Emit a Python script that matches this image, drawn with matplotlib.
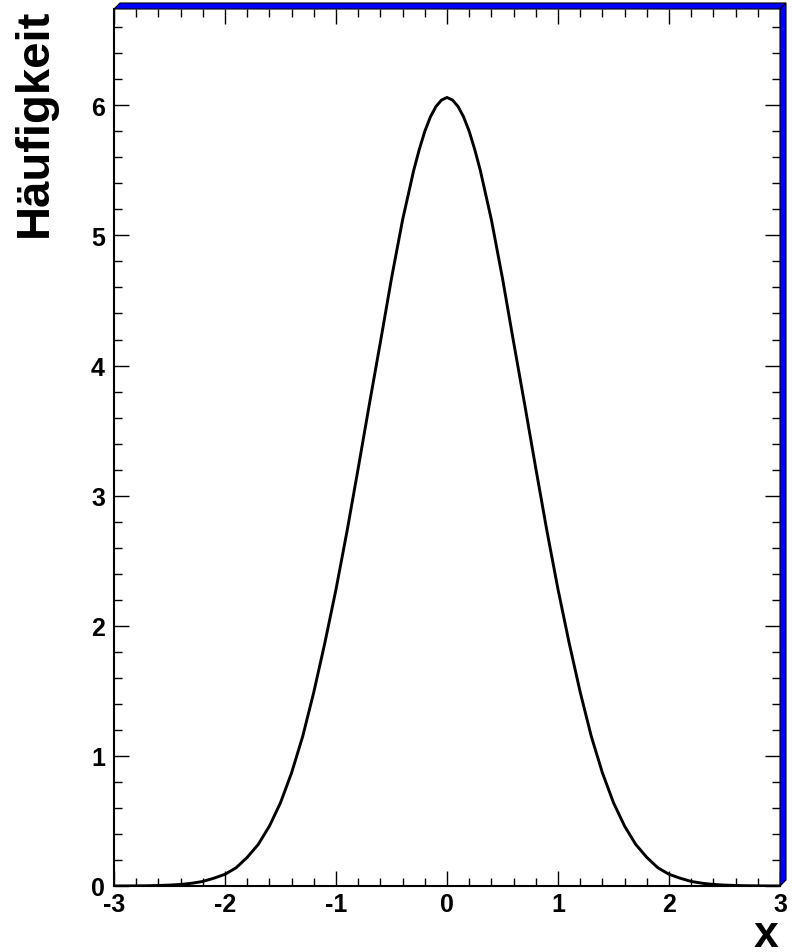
import matplotlib
matplotlib.use('Agg')
import matplotlib.pyplot as plt
from matplotlib.patches import Polygon
from matplotlib.ticker import MultipleLocator

plt.rcParams['font.family'] = ['Liberation Sans', 'DejaVu Sans']
plt.rcParams['font.weight'] = 'bold'

# curve
x_vals = [-3.0, -2.9, -2.8, -2.7, -2.6, -2.5, -2.4, -2.3, -2.2, -2.1,
          -2.0, -1.9, -1.8, -1.7, -1.6, -1.5, -1.4, -1.3, -1.2, -1.1,
          -1.0, -0.9, -0.8, -0.7, -0.6, -0.5, -0.4, -0.3, -0.25, -0.2,
          -0.15, -0.1, -0.05, 0.0, 0.05, 0.1, 0.15,
          0.2, 0.25, 0.3, 0.4, 0.5, 0.6, 0.7, 0.8, 0.9, 1.0,
          1.1, 1.2, 1.3, 1.4, 1.5, 1.6, 1.7, 1.8, 1.9, 2.0,
          2.1, 2.2, 2.3, 2.4, 2.5, 2.6, 2.7, 2.8, 2.9, 3.0]
y_vals = [0.0002, 0.0005, 0.001, 0.002, 0.004, 0.007, 0.012, 0.021, 0.035, 0.06,
          0.09, 0.14, 0.22, 0.32, 0.46, 0.64, 0.87, 1.15, 1.49, 1.87,
          2.28, 2.73, 3.21, 3.70, 4.18, 4.67, 5.12, 5.50, 5.66, 5.80,
          5.91, 5.99, 6.04, 6.06, 6.04, 5.99, 5.91,
          5.80, 5.66, 5.50, 5.12, 4.67, 4.18, 3.70, 3.21, 2.73, 2.28,
          1.87, 1.49, 1.15, 0.87, 0.64, 0.46, 0.32, 0.22, 0.14, 0.09,
          0.06, 0.035, 0.021, 0.012, 0.007, 0.004, 0.002, 0.001, 0.0005, 0.0002]

x_ticks = [-3, -2, -1, 0, 1, 2, 3]
y_ticks = [0, 1, 2, 3, 4, 5, 6]

W, H = 792, 953
fig = plt.figure(figsize=(W / 100, H / 100), dpi=100)
L, R, T, B = 114, 780, 10, 887
ax = fig.add_axes([L / W, 1 - B / H, (R - L) / W, (B - T) / H])

ax.plot(x_vals, y_vals, color='black', lw=2.1, solid_joinstyle='round')
ax.set_xlim(-3, 3)
ax.set_ylim(0, 6.74)
ax.set_xticks(x_ticks)
ax.set_yticks(y_ticks)
ax.set_xticklabels([str(t) for t in x_ticks])
ax.set_yticklabels([str(t) for t in y_ticks])
ax.xaxis.set_minor_locator(MultipleLocator(0.2))
ax.yaxis.set_minor_locator(MultipleLocator(0.2))

ax.tick_params(which='both', direction='in', top=True, right=True, width=1)
ax.tick_params(which='major', length=11, labelsize=18)
ax.tick_params(which='minor', length=5.5)
ax.tick_params(axis='x', which='major', pad=4)
ax.tick_params(axis='y', which='major', pad=6.5)
for lab in ax.get_xticklabels() + ax.get_yticklabels():
    lab.set_fontweight('bold')

for s in ['left', 'bottom']:
    ax.spines[s].set_linewidth(1.5)
for s in ['top', 'right']:
    ax.spines[s].set_visible(False)

# ROOT style bevel on top and right of the frame
def px(pts):
    return [(a / W, 1 - b / H) for a, b in pts]

top_band = Polygon(px([(L, T), (L + 6, T - 6), (R + 6, T - 6), (R, T)]),
                   closed=True, facecolor='#0000ff', edgecolor='black', lw=0.8,
                   transform=fig.transFigure)
right_band = Polygon(px([(R, T), (R + 6, T - 6), (R + 6, B - 6), (R, B)]),
                     closed=True, facecolor='#0000ff', edgecolor='black', lw=0.8,
                     transform=fig.transFigure)
fig.patches.extend([top_band, right_band])

fig.text(13 / W, 1 - 9 / H, 'Häufigkeit', rotation=90, ha='left', va='top',
         fontsize=34, fontweight='bold')
fig.text(778 / W, 1 - 947 / H, 'x', ha='right', va='baseline',
         fontsize=32, fontweight='bold')

fig.savefig('out.png', dpi=100)
